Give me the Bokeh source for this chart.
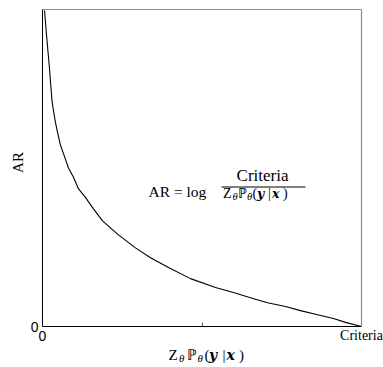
import math
from bokeh.plotting import figure
from bokeh.models import Range1d, FixedTicker, Label, ColumnDataSource, LinearAxis
from bokeh.embed import file_html
from bokeh.resources import INLINE

# ---- data (x in units of "Criteria", y = AR normalised to the axis height) ----
x_vals = [0.0063, 0.0125, 0.0219, 0.0298, 0.0345, 0.0398, 0.0470, 0.0555, 0.0680,
          0.0815, 0.0972, 0.1129, 0.1339, 0.1599, 0.1881, 0.2382, 0.2915, 0.3386,
          0.3950, 0.4639, 0.5423, 0.5987, 0.6520, 0.7053, 0.7618, 0.8088, 0.8589,
          0.9122, 0.9498, 1.0]
ar_vals = [0.997, 0.921, 0.814, 0.711, 0.681, 0.648, 0.613, 0.575, 0.539,
           0.500, 0.471, 0.434, 0.408, 0.371, 0.333, 0.289, 0.248, 0.217,
           0.186, 0.151, 0.123, 0.107, 0.091, 0.075, 0.063, 0.050, 0.038,
           0.025, 0.013, 0.0]
x_ticks = [0, 1]
x_tick_labels = ["0", "Criteria"]
y_ticks = [0]
y_tick_labels = ["0"]

W, H = 383, 367
L, R, T, B = 42, 361, 9, 326   # pixel box of the axes


def dx(px):
    return (px - L) / (R - L)


def dy(py):
    return (B - py) / (B - T)


p = figure(width=W, height=H, output_backend="svg", toolbar_location=None,
           x_range=Range1d(dx(0), dx(W)), y_range=Range1d(dy(H), dy(0)),
           x_axis_type=None, y_axis_type=None,
           min_border_left=0, min_border_right=0, min_border_top=0,
           min_border_bottom=0)
p.grid.visible = False
p.outline_line_color = None
p.background_fill_color = "white"
p.border_fill_color = "white"

src = ColumnDataSource(dict(x=x_vals, y=ar_vals))
p.line("x", "y", source=src, line_color="black", line_width=1.1, line_join="round")

# frame-top / right gray borders as bare axes
top = LinearAxis(fixed_location=1, bounds=(0, 1), ticker=FixedTicker(ticks=[]),
                 axis_line_color="#8c8c8c", axis_line_width=1.2,
                 major_tick_in=0, major_tick_out=0, minor_tick_in=0, minor_tick_out=0)
p.add_layout(top, "above")
right = LinearAxis(fixed_location=1, bounds=(0, 1), ticker=FixedTicker(ticks=[]),
                   axis_line_color="#8c8c8c", axis_line_width=1.2,
                   major_tick_in=0, major_tick_out=0, minor_tick_in=0, minor_tick_out=0)
p.add_layout(right, "right")

# main axes
xa = LinearAxis(fixed_location=0, bounds=(0, 1),
                ticker=FixedTicker(ticks=x_ticks, minor_ticks=[0.5]))
xa.major_label_overrides = {x_ticks[0]: x_tick_labels[0], x_ticks[1]: " "}
xa.major_label_text_font = "Liberation Sans"
xa.major_label_text_font_size = "14px"
xa.major_label_text_color = "black"
xa.major_label_standoff = 1
xa.major_tick_in = 0
xa.major_tick_out = 0
xa.minor_tick_in = 4
xa.minor_tick_out = 0
xa.minor_tick_line_color = "#555555"
xa.axis_line_color = "black"
p.add_layout(xa, "below")

ya = LinearAxis(fixed_location=0, bounds=(0, 1),
                ticker=FixedTicker(ticks=y_ticks, minor_ticks=[]))
ya.major_label_overrides = {y_ticks[0]: y_tick_labels[0]}
ya.major_label_text_font = "Liberation Sans"
ya.major_label_text_font_size = "14px"
ya.major_label_text_color = "black"
ya.major_label_standoff = 4
ya.major_tick_in = 0
ya.major_tick_out = 0
ya.axis_line_color = "black"
p.add_layout(ya, "left")

SHIFT = 6  # Label baseline correction (px)


def put(text, px, py, size, style="normal", align="left", baseline="alphabetic",
        angle=0.0, font="Liberation Serif"):
    yy = py - SHIFT if baseline == "alphabetic" else py
    p.add_layout(Label(x=dx(px), y=dy(yy), text=text, text_font=font,
                       text_font_size=f"{size}px", text_font_style=style,
                       text_align=align, text_baseline=baseline, angle=angle,
                       text_color="black"))


# x tick label "Criteria"
put(x_tick_labels[1], 361, 341, 14, align="center")

# y axis label
put("AR", 17, 162, 15, align="center", baseline="middle", angle=math.pi / 2)

# x axis label: Z_θ ℙ_θ(y|x)
put("Z", 168, 360, 15)
put("θ", 178.5, 363.5, 11, style="italic")
put("ℙ", 186, 360, 15)
put("θ", 197, 363.5, 11, style="italic")
put("(", 204, 360, 15)
put("y", 208.5, 360, 14, style="bold italic", font="DejaVu Serif")
put("|", 222, 360, 15)
put("x", 226, 360, 14, style="bold italic", font="DejaVu Serif")
put(")", 238.5, 360, 15)

# formula annotation
put("AR =  log", 148, 197, 15.5)
put("Criteria", 262, 181, 17, align="center")
p.line(x=[dx(221), dx(305)], y=[dy(186.5), dy(186.5)], line_color="black", line_width=1)
put("Z", 222.5, 199, 14)
put("θ", 232, 202, 10.5, style="italic")
put("ℙ", 237.5, 199, 14)
put("θ", 246.5, 202, 10.5, style="italic")
put("(", 252, 199, 14)
put("y", 256.5, 199, 12.5, style="bold italic", font="DejaVu Serif")
put("|", 267.5, 199, 14)
put("x", 271.5, 199, 12.5, style="bold italic", font="DejaVu Serif")
put(")", 282.5, 199, 14)

open("out.html", "w").write(file_html(p, INLINE))
